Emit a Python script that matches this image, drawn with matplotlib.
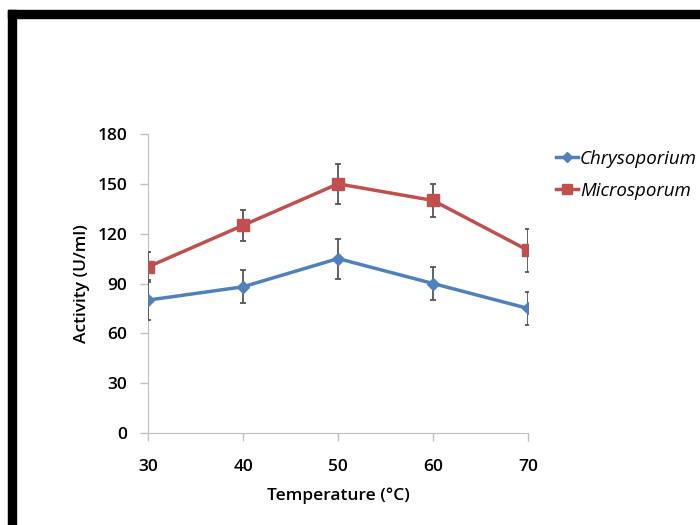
import matplotlib
matplotlib.use("Agg")
import matplotlib.pyplot as plt
from matplotlib.patches import Rectangle
from matplotlib.lines import Line2D

temps = [30, 40, 50, 60, 70]
chryso = [80, 88, 105, 90, 75]
chryso_err = [12, 10, 12, 10, 10]
micro = [100, 125, 150, 140, 110]
micro_err = [9, 9.5, 12, 10, 13]

plt.rcParams['font.family'] = ['Open Sans', 'DejaVu Sans']

fig = plt.figure(figsize=(7, 5.25), dpi=100)
ax = fig.add_axes([148/700, 92/525, 380/700, 299/525])

# black frame from the original screenshot (top and left only)
fig.add_artist(Rectangle((8/700, 0), 7.5/700, 515/525, transform=fig.transFigure,
                         color='black', zorder=10))
fig.add_artist(Rectangle((8/700, 507.5/525), 692/700, 7.5/525, transform=fig.transFigure,
                         color='black', zorder=10))

ax.errorbar(temps, chryso, yerr=chryso_err, color='#4F81BD', lw=2.5, marker='D',
            ms=6, ecolor='#555555', elinewidth=1.3, capsize=2.5, capthick=1.3, zorder=3)
ax.errorbar(temps, micro, yerr=micro_err, color='#C0504D', lw=2.5, marker='s',
            ms=9, ecolor='#555555', elinewidth=1.3, capsize=2.5, capthick=1.3, zorder=3)

ax.set_xlim(30, 70)
ax.set_ylim(0, 180)
ax.set_xticks(temps)
ax.set_yticks(range(0, 181, 30))
for s in ['top', 'right']:
    ax.spines[s].set_visible(False)
for s in ['left', 'bottom']:
    ax.spines[s].set_color('#BFBFBF')
ax.tick_params(colors='#BFBFBF', labelcolor='black', labelsize=12.5, length=6, width=1)
ax.tick_params(axis='x', pad=13)
ax.tick_params(axis='y', pad=9)
for lab in ax.get_xticklabels() + ax.get_yticklabels():
    lab.set_fontweight('semibold')
ax.set_xlabel('Temperature (°C)', fontsize=12.5, fontweight='semibold', labelpad=9)
ax.set_ylabel('Activity (U/ml)', fontsize=12.5, fontweight='semibold', labelpad=5)

handles = [Line2D([], [], color='#4F81BD', lw=2.5, marker='D', ms=5),
           Line2D([], [], color='#C0504D', lw=2.5, marker='s', ms=7)]
fig.legend(handles, ['Chrysoporium', 'Microsporum'], loc='upper left',
           bbox_to_anchor=(548/700, 1 - 142/525), frameon=False,
           prop={'style': 'italic', 'size': 13.5}, handlelength=1.2,
           handletextpad=0.1, labelspacing=0.75, borderaxespad=0)

fig.savefig('out.png', dpi=100)
